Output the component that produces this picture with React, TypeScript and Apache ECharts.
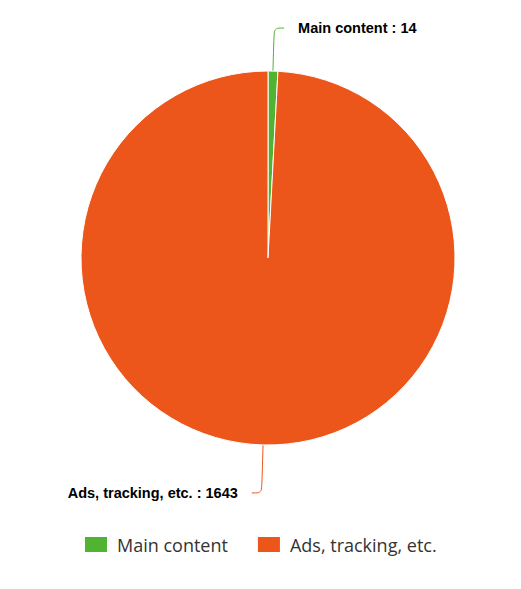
import React, { useEffect, useRef } from "react";
import * as echarts from "echarts";

const categories = ["Main content", "Ads, tracking, etc."];
const values = [14, 1643];
const colors = ["#50B432", "#ED561B"];
const lineLengths = [
  [43, 10],
  [48, 10],
];

export default function App() {
  const ref = useRef<HTMLDivElement>(null);
  useEffect(() => {
    if (!ref.current) return;
    const chart = echarts.init(ref.current, undefined, { renderer: "svg" });
    chart.setOption({
      animation: false,
      color: colors,
      legend: {
        left: 78,
        top: 530,
        itemWidth: 24,
        itemHeight: 17,
        itemGap: 28,
        icon: "rect",
        textStyle: {
          fontFamily: "Open Sans",
          fontSize: 18,
          color: "#333",
          padding: [0, 0, 0, 4],
        },
        data: categories,
      },
      series: [
        {
          type: "pie",
          center: [268, 258],
          radius: 187,
          startAngle: 90,
          clockwise: true,
          avoidLabelOverlap: false,
          itemStyle: { borderColor: "#fff", borderWidth: 1 },
          label: {
            show: true,
            formatter: "{b} : {c}",
            fontFamily: "Liberation Sans, Arial",
            fontWeight: "bold",
            fontSize: 14.5,
            color: "#000",
            distanceToLabelLine: 14,
          },
          labelLine: { smooth: 0.3, lineStyle: { width: 1 } },
          data: categories.map((c, i) => ({
            name: c,
            value: values[i],
            labelLine: { length: lineLengths[i][0], length2: lineLengths[i][1] },
          })),
        },
      ],
    });
    return () => chart.dispose();
  }, []);
  return (
    <div
      ref={ref}
      style={{ position: "absolute", left: 0, top: 0, width: 521, height: 589 }}
    />
  );
}
